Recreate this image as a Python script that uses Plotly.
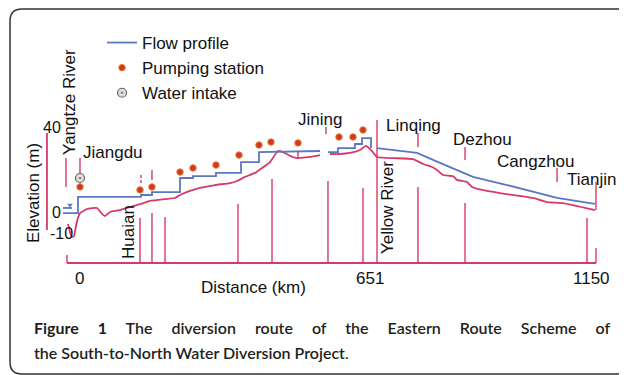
import plotly.graph_objects as go

# ---------------- data (distance in km, elevation in m) ----------------
# canal bottom / ground profile (pink)
profile_km = [-27.0, -22.5, -18.0, -13.5, -9.0, -4.5, 0, 15.7, 38.2, 49.4, 56.2, 67.4, 89.9,
              112.4, 137.1, 157.3, 191.1, 213.5, 224.8, 247.2, 269.7, 303.4, 337.2, 352.9,
              370.9, 393.3, 409.1, 427.1, 445.0, 456.3, 472.0, 487.8, 517.0, 539.4, None,
              561.9, 584.4, 606.9, 629.4, 642.8, 656.3, 667.6, 748.5, 771.0, 791.2, 802.4,
              815.9, 838.4, 847.4, 869.9, 881.1, 903.6, 944.0, 1018.2, 1049.7, 1085.6, 1157.6]
profile_elev = [-5.6, -9.4, -11.8, -11.3, -6.6, -2.8, -0.5, 1.4, 1.9, -0.9, -1.9, 0.0, 0.9,
                2.4, 3.8, 5.2, 6.1, 6.6, 8.0, 9.9, 11.3, 12.7, 13.6, 14.6,
                16.5, 18.4, 20.7, 23.5, 28.7, 28.2, 26.4, 25.4, 25.9, 26.8, None,
                27.3, 27.3, 27.8, 29.2, 31.1, 28.7, 25.9, 24.9, 22.6, 21.2, 19.8,
                17.4, 16.9, 15.1, 14.1, 11.8, 10.4, 8.9, 6.6, 4.7, 4.2, 0.9]

# water surface (flow profile, blue), stepped at pumping stations
flow_km = [-38.2, -4.5, -4.5, 137.1, 137.1, 161.8, 161.8, 224.8, 224.8, 254.0, 254.0,
           305.7, 305.7, 361.9, 361.9, 402.3, 402.3, 539.4, None, 557.4, 579.9, 579.9,
           618.1, 618.1, 633.9, 633.9, 654.1, 654.1, None, 667.6, 757.5, 809.2, 883.3,
           959.8, 1072.2, 1157.6]
flow_elev = [-0.5, -0.5, 7.1, 7.1, 8.0, 8.0, 9.4, 9.4, 16.0, 16.0, 16.9,
             16.9, 18.4, 18.4, 23.5, 23.5, 28.2, 28.7, None, 28.2, 28.2, 30.1,
             30.1, 32.0, 32.0, 34.8, 34.8, 30.1, None, 30.1, 27.8, 23.1, 16.5,
             12.7, 6.6, 3.8]

# Yangtze river water level
yangtze_km = [-38.2, -18.0]
yangtze_elev = [1.9, 1.9]
yangtze_mark_km = [-22.5]
yangtze_mark_elev = [3.3]

# pumping stations
station_km = [0, 134.9, 161.8, 224.8, 254.0, 305.7, 357.4, 402.3, 429.3, 490.0, 582.2, 613.6, 636.1]
station_elev = [11.8, 10.4, 11.8, 18.8, 20.7, 22.1, 26.8, 31.5, 32.9, 32.5, 35.3, 35.3, 38.6]

# water intake
intake_km = [0]
intake_elev = [16.0]

# vertical location lines (pink)
vline_km = [-31.5, -29.2, 0, 134.9, 161.8, 191.1, 161.8, 355.1, 431.6, 490.0, 557.4, 552.9,
            636.1, 667.6, 759.7, 759.7, 865.4, 865.4, 1072.2, 1139.6, 1159.8, 1159.8]
vline_top = [25.4, -20.2, 25.4, -2.8, -0.5, -2.4, 19.8, 3.8, 15.5, 28.2, 14.6, 40.0,
             11.3, 43.3, 11.8, 37.2, 4.2, 30.6, 20.7, -2.8, 14.1, -16.9]
vline_bottom = [11.8, -24.0, 17.9, -24.0, -24.0, -24.0, 15.1, -24.0, -24.0, 25.4, -24.0, 36.7,
                -24.0, -24.0, -24.0, 30.6, -24.0, 24.5, 14.1, -24.0, 0.9, -24.0]
dash_km = [137.1]
dash_top = [17.4]
dash_bottom = [13.6]

# axes drawn as in the schematic
x_axis_km = [-29.2, 1159.8]
x_axis_elev = -24.0
y_axis_km = -74.2
y_axis_elev = [37.2, -8.5]

# place names
place_names = ["Jiangdu", "Jining", "Linqing", "Dezhou", "Cangzhou", "Tianjin"]
place_km = [2.2, 539.4, 750.7, 903.6, 1024.9, 1148.6]
place_label_elev = [28.2, 43.3, 40.9, 33.9, 24.0, 15.5]
place_anchor = ["left", "center", "center", "center", "center", "center"]

river_names = ["Yangtze River", "Huaian", "Yellow River"]
river_km = [-22.5, 110.1, 692.3]
river_label_elev = [51.8, -9.4, 1.9]

# tick labels
x_tick_vals = [0, 651, 1150]
x_tick_text = ["0", "651", "1150"]
x_tick_label_elev = -31.5
y_tick_vals = [40, 0, -10]
y_tick_text = ["40", "0", "-10"]
y_tick_label_km = [-62.9, -51.7, -40.5]

PINK = "#d63a6a"
BLUE = "#5a78c2"
FONT = "Liberation Sans, Arial, sans-serif"

fig = go.Figure()

# pink ground profile
fig.add_trace(go.Scatter(x=profile_km, y=profile_elev, mode="lines",
                         line=dict(color=PINK, width=1.8, shape="spline", smoothing=0.4),
                         showlegend=False, hoverinfo="skip", connectgaps=False))

# vertical lines
vx, vy = [], []
for k, t, b in zip(vline_km, vline_top, vline_bottom):
    vx += [k, k, None]
    vy += [t, b, None]
fig.add_trace(go.Scatter(x=vx, y=vy, mode="lines", line=dict(color=PINK, width=1.4),
                         showlegend=False, hoverinfo="skip"))
dx, dy = [], []
for k, t, b in zip(dash_km, dash_top, dash_bottom):
    dx += [k, k, None]
    dy += [t, b, None]
fig.add_trace(go.Scatter(x=dx, y=dy, mode="lines", line=dict(color=PINK, width=1.4, dash="3px,2px"),
                         showlegend=False, hoverinfo="skip"))

# schematic axes
fig.add_trace(go.Scatter(x=x_axis_km, y=[x_axis_elev, x_axis_elev], mode="lines",
                         line=dict(color=PINK, width=1.8), showlegend=False, hoverinfo="skip"))
fig.add_trace(go.Scatter(x=[y_axis_km, y_axis_km], y=y_axis_elev, mode="lines",
                         line=dict(color=PINK, width=1.8), showlegend=False, hoverinfo="skip"))

# Yangtze water level
fig.add_trace(go.Scatter(x=yangtze_km, y=yangtze_elev, mode="lines",
                         line=dict(color=BLUE, width=1.8), showlegend=False, hoverinfo="skip"))
fig.add_trace(go.Scatter(x=yangtze_mark_km, y=yangtze_mark_elev, mode="markers",
                         marker=dict(symbol="triangle-down", size=5, color=BLUE),
                         showlegend=False, hoverinfo="skip"))

# flow profile
fig.add_trace(go.Scatter(x=flow_km, y=flow_elev, mode="lines", name="Flow profile",
                         line=dict(color=BLUE, width=1.8), connectgaps=False))

# pumping stations
fig.add_trace(go.Scatter(x=station_km, y=station_elev, mode="markers", name="Pumping station",
                         marker=dict(symbol="circle", size=6.5, color="#cf3a1e",
                                     line=dict(color="#e8803a", width=1))))

# water intake
fig.add_trace(go.Scatter(x=intake_km, y=intake_elev, mode="markers", name="Water intake",
                         marker=dict(symbol="circle-dot", size=9, color="#dddddd",
                                     line=dict(color="#666666", width=1.2))))

ann = []
for name, k, e, a in zip(place_names, place_km, place_label_elev, place_anchor):
    ann.append(dict(x=k, y=e, xref="x", yref="y", text=name, showarrow=False,
                    xanchor=a, yanchor="middle", font=dict(family=FONT, size=17, color="#111")))
for name, k, e in zip(river_names, river_km, river_label_elev):
    ann.append(dict(x=k, y=e, xref="x", yref="y", text=name, showarrow=False, textangle=-90,
                    xanchor="center", yanchor="middle", font=dict(family=FONT, size=17, color="#111")))
for v, t in zip(x_tick_vals, x_tick_text):
    ann.append(dict(x=v, y=x_tick_label_elev, xref="x", yref="y", text=t, showarrow=False,
                    xanchor="center", yanchor="middle", font=dict(family=FONT, size=17, color="#111")))
for v, t, k in zip(y_tick_vals, y_tick_text, y_tick_label_km):
    ann.append(dict(x=k, y=v, xref="x", yref="y", text=t, showarrow=False,
                    xanchor="center", yanchor="middle", font=dict(family=FONT, size=16, color="#111")))
# axis titles
ann.append(dict(x=391.1, y=-35.3, xref="x", yref="y", text="Distance (km)", showarrow=False,
                xanchor="center", yanchor="middle", font=dict(family=FONT, size=17, color="#111")))
ann.append(dict(x=-105.6, y=8.9, xref="x", yref="y", text="Elevation (m)", showarrow=False,
                textangle=-90, xanchor="center", yanchor="middle",
                font=dict(family=FONT, size=17, color="#111")))

# the page body has an 8px margin: the figure is laid out in its own pixel frame
W, H = 619, 367
OFF = 8
# caption
CAP = dict(family="Lato, sans-serif", size=16, color="#231f20", weight=600)
ann.append(dict(x=(32 - OFF) / W, y=1 - (327 - OFF) / H, xref="paper", yref="paper",
                showarrow=False, xanchor="left", yanchor="middle", font=CAP,
                text="<span style='word-spacing:15px'><b>Figure 1</b> The diversion route of the "
                     "Eastern Route Scheme of</span>"))
ann.append(dict(x=(32 - OFF) / W, y=1 - (352 - OFF) / H, xref="paper", yref="paper",
                showarrow=False, xanchor="left", yanchor="middle", font=CAP,
                text="the South-to-North Water Diversion Project<span style='font-weight:400'>.</span>"))

frame_path = ("M 1.05,{t} L {x1},{t} Q {l},{t} {l},{y1} L {l},{y2} Q {l},{b} {x1},{b} L 1.05,{b}"
              .format(t=1 - 1 / H, b=1 - 366 / H, l=2 / W, x1=14 / W,
                      y1=1 - 13 / H, y2=1 - 354 / H))

fig.update_layout(
    width=W, height=H,
    margin=dict(l=0, r=0, t=0, b=0),
    paper_bgcolor="white", plot_bgcolor="white",
    xaxis=dict(range=[-161.8, 1229.5], visible=False, fixedrange=True),
    yaxis=dict(range=[-76.7, 96.0], visible=False, fixedrange=True),
    annotations=ann,
    shapes=[dict(type="path", path=frame_path, xref="paper", yref="paper",
                 line=dict(color="#333333", width=1.5))],
    legend=dict(x=(102 - OFF) / W, y=1 - (25 - OFF) / H, xanchor="left", yanchor="top",
                font=dict(family=FONT, size=17, color="#111"),
                bgcolor="rgba(0,0,0,0)", itemwidth=30),
    showlegend=True,
)

fig.write_html("out.html")
